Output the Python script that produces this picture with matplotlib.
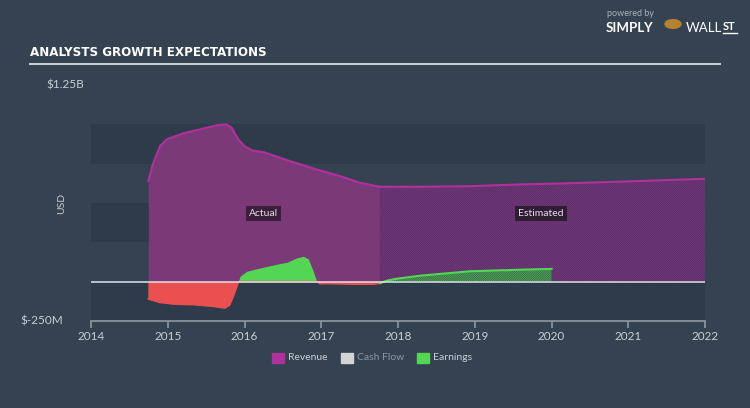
import matplotlib
matplotlib.use("Agg")
import matplotlib.pyplot as plt
from matplotlib.patches import Rectangle, Circle

# ---------------- data (billions USD) ----------------
rev_x_act = [2014.747, 2014.812, 2014.899, 2014.986, 2015.203, 2015.420, 2015.638,
             2015.759, 2015.833, 2015.919, 2016.007, 2016.115, 2016.245, 2016.593,
             2016.941, 2017.244, 2017.505, 2017.765]
rev_y_act = [0.639, 0.756, 0.862, 0.904, 0.943, 0.968, 0.994,
             1.000, 0.979, 0.904, 0.858, 0.832, 0.824, 0.766,
             0.713, 0.671, 0.629, 0.603]
rev_x_est = [2017.765, 2017.896, 2018.287, 2018.938, 2019.590, 2020.111, 2020.980, 2022.0]
rev_y_est = [0.603, 0.603, 0.603, 0.607, 0.618, 0.624, 0.637, 0.654]

earn_x_act = [2014.747, 2014.899, 2015.072, 2015.333, 2015.593, 2015.746, 2015.810,
              2015.854, 2015.919, 2015.941, 2016.029, 2016.202, 2016.463, 2016.550,
              2016.680, 2016.766, 2016.831, 2016.896, 2016.941, 2016.984, 2017.071,
              2017.418, 2017.678, 2017.765]
earn_y_act = [-0.110, -0.132, -0.142, -0.146, -0.157, -0.168, -0.146,
              -0.094, -0.004, 0.034, 0.066, 0.087, 0.115, 0.123,
              0.151, 0.161, 0.145, 0.066, 0.002, -0.013, -0.012,
              -0.016, -0.016, -0.010]
earn_x_est = [2017.765, 2017.852, 2017.960, 2018.287, 2018.938, 2019.590, 2020.0]
earn_y_est = [-0.010, 0.006, 0.017, 0.038, 0.066, 0.076, 0.081]

years = [2014, 2015, 2016, 2017, 2018, 2019, 2020, 2021, 2022]
y_top_label = "$1.25B"
y_bot_label = "$-250M"
legend_items = ["Revenue", "Cash Flow", "Earnings"]

# ---------------- style ----------------
BG = "#344252"
BAND = "#2e3b4a"
REV_FILL = "#7c3977"
REV_LINE = "#b2309c"
REV_EST_BASE = "#3a3654"
REV_HATCH = "#8e3188"
GREEN = "#52d653"
GREEN_EST_BASE = "#3a4652"
GREEN_HATCH = "#4cc44d"
RED = "#eb5050"
TXT = "#c9ced4"
AXIS = "#8f99a3"

plt.rcParams["font.family"] = ["Lato", "DejaVu Sans"]
plt.rcParams["hatch.linewidth"] = 0.5

W, H = 750, 408
fig = plt.figure(figsize=(7.5, 4.08), dpi=100, facecolor=BG)

ax = fig.add_axes([91 / W, 1 - 321 / H, (705 - 91) / W, (321 - 85) / H])
ax.set_facecolor(BG)
ax.set_xlim(2014, 2022)
ax.set_ylim(-0.25, 1.25)

for lo, hi in [(-0.25, 0.0), (0.25, 0.5), (0.75, 1.0)]:
    ax.axhspan(lo, hi, color=BAND, lw=0, zorder=0)

# revenue
ax.fill_between(rev_x_act, 0, rev_y_act, color=REV_FILL, lw=0, zorder=1)
ax.fill_between(rev_x_est, 0, rev_y_est, facecolor=REV_EST_BASE, edgecolor=REV_HATCH,
                hatch="/" * 18, lw=0, zorder=1)
ax.plot(rev_x_act, rev_y_act, color=REV_LINE, lw=1.5, zorder=3)
ax.plot(rev_x_est, rev_y_est, color=REV_LINE, lw=1.5, zorder=3)

# earnings
ax.fill_between(earn_x_act, 0, earn_y_act, where=[v >= 0 for v in earn_y_act],
                interpolate=True, color=GREEN, lw=0, zorder=2)
ax.fill_between(earn_x_act, 0, earn_y_act, where=[v <= 0 for v in earn_y_act],
                interpolate=True, color=RED, lw=0, zorder=2)
ax.plot(earn_x_act, [min(v, 0) for v in earn_y_act], color=RED, lw=1.2, zorder=2)
ax.fill_between(earn_x_est, 0, earn_y_est, where=[v >= 0 for v in earn_y_est],
                interpolate=True, facecolor=GREEN_EST_BASE, edgecolor=GREEN_HATCH,
                hatch="/" * 18, lw=0, zorder=2)
ax.fill_between(earn_x_est, 0, earn_y_est, where=[v <= 0 for v in earn_y_est],
                interpolate=True, color=RED, lw=0, zorder=2)
ax.plot(earn_x_est, earn_y_est, color=GREEN, lw=1.5, zorder=3)

ax.axhline(0, color="#dfe3e7", lw=1.1, zorder=4)

ax.text(2016.25, 0.433, "Actual", color="#e6dde6", fontsize=7.5, ha="center", va="center",
        zorder=5, bbox=dict(boxstyle="square,pad=0.3", fc="#3b1f3b", ec="none"))
ax.text(2019.86, 0.433, "Estimated", color="#e6dde6", fontsize=7.5, ha="center", va="center",
        zorder=5, bbox=dict(boxstyle="square,pad=0.3", fc="#2f1d33", ec="none"))

for s in ["top", "right", "left"]:
    ax.spines[s].set_visible(False)
ax.spines["bottom"].set_color(AXIS)
ax.spines["bottom"].set_linewidth(1.2)
ax.set_xticks(years)
ax.set_xticklabels([str(y) for y in years])
ax.tick_params(axis="x", direction="out", length=5, width=1.2, color=AXIS,
               labelcolor=TXT, labelsize=8.5, pad=2)
ax.set_yticks([])

# y labels
fig.text(65 / W, 1 - 85 / H, y_top_label, color=TXT, fontsize=8.5, ha="center", va="center")
fig.text(42 / W, 1 - 321 / H, y_bot_label, color=TXT, fontsize=8.5, ha="center", va="center")
fig.text(62 / W, 1 - 203 / H, "USD", color=TXT, fontsize=7.5, ha="center", va="center",
         rotation=90)

# title
fig.text(30 / W, 1 - 53 / H, "ANALYSTS GROWTH EXPECTATIONS", color="white", fontsize=9.5,
         fontweight="bold", fontstretch="condensed",
         family=["DejaVu Sans", "Liberation Sans"], ha="left", va="center")
fig.add_artist(plt.Line2D([30 / W, 720 / W], [1 - 64 / H, 1 - 64 / H], color="#c8ccd2",
                          lw=1.5, transform=fig.transFigure))

# legend
leg_pos = [(272, REV_LINE, TXT), (341, "#d4d4d4", "#8e969f"), (417, GREEN, TXT)]
for (x0, c, tc), lab in zip(leg_pos, legend_items):
    fig.add_artist(Rectangle((x0 / W, 1 - 363 / H), 12 / W, 10 / H, color=c,
                             transform=fig.transFigure))
    fig.text((x0 + 16) / W, 1 - 358 / H, lab, color=tc, fontsize=7.5, ha="left", va="center")

# logo
fig.text(607 / W, 1 - 14 / H, "powered by", color="#aab2bb", fontsize=6.5, ha="left", va="center")
fig.text(606 / W, 1 - 28 / H, "SIMPLY", color="white", fontsize=9.5, fontweight="bold",
         ha="left", va="center")
fig.add_artist(Circle((673 / W, 1 - 24 / H), 8 / W, color="#b5822f",
                      transform=fig.transFigure))
fig.text(686 / W, 1 - 28 / H, "WALL", color="white", fontsize=9.5, ha="left", va="center")
fig.text(723 / W, 1 - 27 / H, "ST", color="white", fontsize=8, fontweight="bold",
         ha="left", va="center")
fig.add_artist(plt.Line2D([723 / W, 737 / W], [1 - 33 / H, 1 - 33 / H], color="white",
                          lw=1, transform=fig.transFigure))

fig.savefig("out.png", dpi=100, facecolor=BG)
